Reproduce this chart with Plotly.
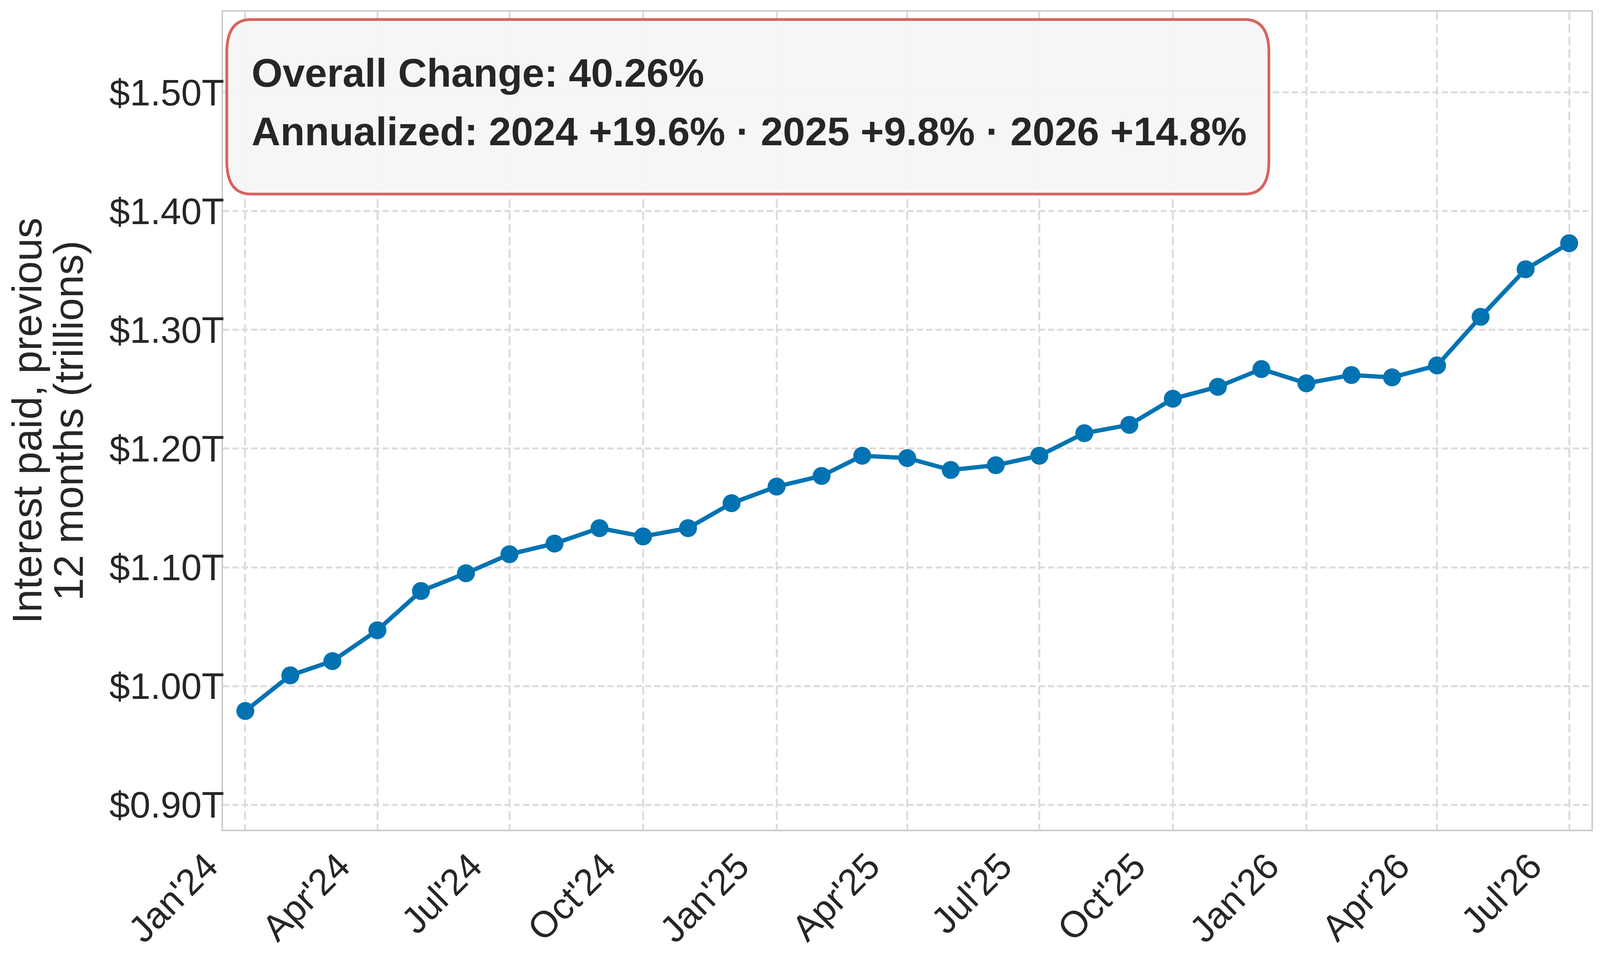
import pandas as pd
import plotly.graph_objects as go

# Monthly values, interest paid over previous 12 months (trillions USD)
months = pd.date_range("2024-01-01", "2026-07-01", freq="MS")
interest_2024 = [0.979, 1.009, 1.021, 1.047, 1.080, 1.095, 1.111, 1.120, 1.133, 1.126, 1.133, 1.154]
interest_2025 = [1.168, 1.177, 1.194, 1.192, 1.182, 1.186, 1.194, 1.213, 1.220, 1.242, 1.252, 1.267]
interest_2026 = [1.255, 1.262, 1.260, 1.270, 1.311, 1.351, 1.373]
interest = interest_2024 + interest_2025 + interest_2026

box_lines = ["Overall Change: 40.26%",
             "Annualized: 2024 +19.6% · 2025 +9.8% · 2026 +14.8%"]
y_title = ["Interest paid, previous", "12 months (trillions)"]

# The browser only gives ~4096px of width, so the 5556x2510 layout is
# mapped onto the visible page (x squeezed, y kept). Body margin is 8px.
VW, VH = 4096, 2510
SX = VW / 5556
FS = 0.75          # text scale so string widths still fit the layout
OFF = 8


def fx(x):
    return x * SX - OFF


def fy(y):
    return y - OFF


W, H = VW - OFF, VH - OFF
L = fx(774)
R = W - fx(5526)
T = fy(30)
B = H - fy(2125)
pw, ph = W - L - R, H - T - B


def px(x):
    return (fx(x) - L) / pw


def py(y):
    return 1 - (fy(y) - T) / ph


FONT = "Liberation Sans, Arial, sans-serif"
TXT = "#262626"
BLUE = "#0173b2"
GRID = "#dcdcdc"

fig = go.Figure()
fig.add_trace(go.Scatter(
    x=months, y=interest, mode="lines+markers",
    line=dict(color=BLUE, width=11),
    marker=dict(color=BLUE, size=46),
    showlegend=False,
))

# rounded summary box (corner radius 84px, squeezed in x like the rest)
x0, x1, y0, y1 = 787, 4406, 50, 497
rx, ry = 84, 84
path = (f"M {px(x0 + rx)} {py(y0)} L {px(x1 - rx)} {py(y0)} "
        f"Q {px(x1)} {py(y0)} {px(x1)} {py(y0 + ry)} L {px(x1)} {py(y1 - ry)} "
        f"Q {px(x1)} {py(y1)} {px(x1 - rx)} {py(y1)} L {px(x0 + rx)} {py(y1)} "
        f"Q {px(x0)} {py(y1)} {px(x0)} {py(y1 - ry)} L {px(x0)} {py(y0 + ry)} "
        f"Q {px(x0)} {py(y0)} {px(x0 + rx)} {py(y0)} Z")
fig.add_shape(type="path", path=path, xref="paper", yref="paper",
              fillcolor="rgba(245,245,245,0.93)",
              line=dict(color="#d9625e", width=7), layer="above")

for txt, yc in zip(box_lines, [187, 336]):
    fig.add_annotation(text=f"<b>{txt}</b>", xref="paper", yref="paper",
                       x=px(870), y=py(yc), xanchor="left", yanchor="middle",
                       showarrow=False, font=dict(family=FONT, size=140 * 0.73, color=TXT))

for txt, xc in zip(y_title, [92, 236]):
    fig.add_annotation(text=txt, xref="paper", yref="paper",
                       x=px(xc), y=0.5, xanchor="center", yanchor="middle",
                       textangle=-90, showarrow=False,
                       font=dict(family=FONT, size=141 * FS, color=TXT))

fig.update_xaxes(
    range=["2023-12-16 16:00", "2026-07-16 08:00"],
    tick0="2024-01-01", dtick="M3", tickformat="%b'%y", tickangle=-45,
    ticks="", ticklabelstandoff=-4, ticklabelshift=-98,
    tickfont=dict(family=FONT, size=126 * FS, color=TXT),
    showgrid=True, gridcolor=GRID, gridwidth=5, griddash="22px,10px",
    showline=True, linecolor="#cccccc", linewidth=4, mirror=True, zeroline=False,
)
fig.update_yaxes(
    range=[0.879, 1.568], tick0=0.9, dtick=0.1,
    tickprefix="$", ticksuffix="T", tickformat=".2f",
    ticks="", ticklabelstandoff=-26,
    tickfont=dict(family=FONT, size=126 * FS, color=TXT),
    showgrid=True, gridcolor=GRID, gridwidth=5, griddash="16px,8px",
    showline=True, linecolor="#cccccc", linewidth=4, mirror=True, zeroline=False,
)
fig.update_layout(
    width=W, height=H,
    margin=dict(l=L, r=R, t=T, b=B, autoexpand=False),
    paper_bgcolor="white", plot_bgcolor="white",
    font=dict(family=FONT, color=TXT),
)

fig.write_html("out.html")
